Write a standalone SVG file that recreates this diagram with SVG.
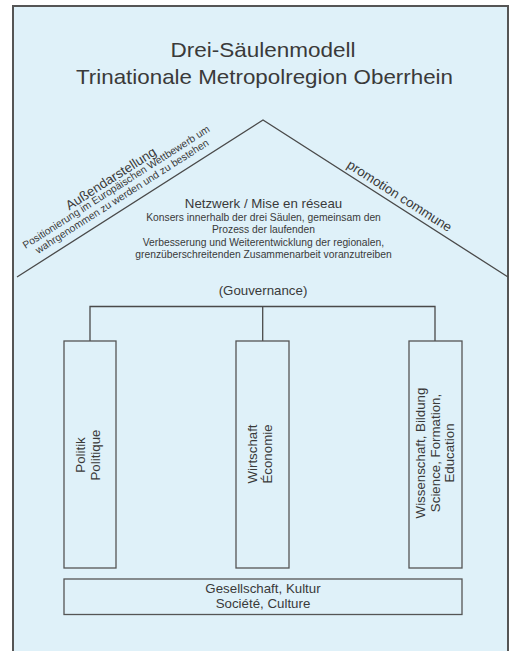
<svg xmlns="http://www.w3.org/2000/svg" width="513" height="651" viewBox="0 0 513 651">
<style>
text{font-family:"Liberation Sans",Arial,sans-serif;fill:#3a3a3a}
.t{font-size:21px}
.m{font-size:13.3px}
.s{font-size:10.3px}
.ln{stroke:#4a4a4a;stroke-width:1.3;fill:none}
.box{stroke:#555;stroke-width:1.3;fill:none}
</style>
<rect x="0" y="0" width="513" height="651" fill="#ffffff"/>
<rect id="frame" x="13" y="6" width="495" height="700" fill="#dff1f9" stroke="#555" stroke-width="2"/>
<g id="title">
<text class="t" x="263" y="57" text-anchor="middle" textLength="185" lengthAdjust="spacingAndGlyphs">Drei-Säulenmodell</text>
<text class="t" x="264.5" y="84" text-anchor="middle" textLength="377" lengthAdjust="spacingAndGlyphs">Trinationale Metropolregion Oberrhein</text>
</g>
<g id="connectors">
<polyline class="ln" points="17,277 263,120 508,277"/>
<polyline class="ln" points="90,341 90,306.5 435,306.5 435,341"/>
<line class="ln" x1="262.7" y1="306.5" x2="262.7" y2="341"/>
</g>
<g id="roof-left" transform="translate(17,277) rotate(-32.55)">
<text class="m" x="132" y="-28" text-anchor="middle">Außendarstellung</text>
<text class="s" x="132" y="-19" text-anchor="middle">Positionierung im Europäischen Wettbewerb um</text>
<text class="s" x="132" y="-8" text-anchor="middle">wahrgenommen zu werden und zu bestehen</text>
</g>
<g id="roof-right" transform="translate(263,120) rotate(32.55)">
<text class="m" x="156" y="-5" text-anchor="middle">promotion commune</text>
</g>
<g id="netzwerk">
<text class="m" x="263.5" y="208" text-anchor="middle">Netzwerk / Mise en réseau</text>
<text class="s" x="263.5" y="220.7" text-anchor="middle">Konsers innerhalb der drei Säulen, gemeinsam den</text>
<text class="s" x="263.5" y="233.2" text-anchor="middle">Prozess der laufenden</text>
<text class="s" x="263.5" y="245.7" text-anchor="middle">Verbesserung und Weiterentwicklung der regionalen,</text>
<text class="s" x="263.5" y="258.2" text-anchor="middle">grenzüberschreitenden Zusammenarbeit voranzutreiben</text>
</g>
<g id="gouvernance">
<text class="m" x="263" y="295" text-anchor="middle">(Gouvernance)</text>
</g>
<g id="politik">
<rect class="box" x="64" y="341" width="52" height="227"/>
<text class="m" transform="translate(90,455) rotate(-90)" text-anchor="middle"><tspan x="0" y="-5.5">Politik</tspan><tspan x="0" y="9.5">Politique</tspan></text>
</g>
<g id="wirtschaft">
<rect class="box" x="236" y="341" width="53" height="227"/>
<text class="m" transform="translate(262.5,454) rotate(-90)" text-anchor="middle"><tspan x="0" y="-5.5">Wirtschaft</tspan><tspan x="0" y="9.5">Économie</tspan></text>
</g>
<g id="wissenschaft">
<rect class="box" x="409" y="341" width="53" height="227"/>
<text class="m" transform="translate(435.5,453) rotate(-90)" text-anchor="middle"><tspan x="0" y="-10.5">Wissenschaft, Bildung</tspan><tspan x="0" y="4">Science, Formation,</tspan><tspan x="0" y="18.5">Education</tspan></text>
</g>
<g id="gesellschaft">
<rect class="box" x="64" y="579" width="398" height="35.5"/>
<text class="m" x="263" y="593" text-anchor="middle">Gesellschaft, Kultur</text>
<text class="m" x="263" y="608" text-anchor="middle">Société, Culture</text>
</g>
</svg>
